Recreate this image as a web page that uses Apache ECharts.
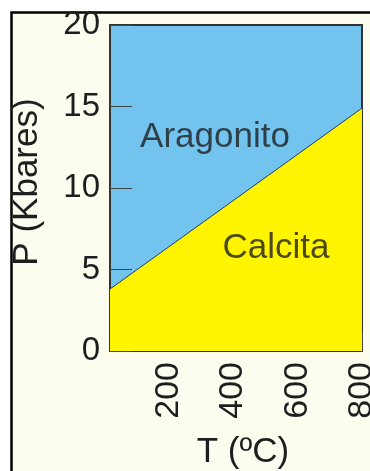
<!DOCTYPE html>
<html>
<head>
<meta charset="utf-8">
<script src="https://cdn.jsdelivr.net/npm/echarts@6/dist/echarts.min.js"></script>
<style>
  html, body { margin: 0; padding: 0; background: #ffffff; }
  #chart { width: 370px; height: 471px; }
</style>
</head>
<body>
<div id="chart"></div>
<script>
// Calcite–aragonite phase boundary (P in kbar vs T in °C)
var boundaryT = [20, 800];
var boundaryP = [3.8, 14.9];

var xTicks = [200, 400, 600, 800];
var yTicks = [0, 5, 10, 15, 20];

// Phase field labels, placed in data coordinates
var phaseNames = ['Aragonito', 'Calcita'];
var phaseT = [345, 534];
var phaseP = [13.1, 6.3];

var xTitle = 'T (ºC)';
var yTitle = 'P (Kbares)';

var FONT = '"Liberation Sans", Arial, Helvetica, sans-serif';
var INK = '#1e1e1e';

var boundary = boundaryT.map(function (t, i) { return [t, boundaryP[i]]; });
var phaseLabels = phaseNames.map(function (n, i) {
  return { name: n, value: [phaseT[i], phaseP[i]] };
});

var chart = echarts.init(document.getElementById('chart'), null, { renderer: 'canvas' });
chart.setOption({
  animation: false,
  backgroundColor: '#ffffff',
  graphic: [
    {
      type: 'rect',
      z: -10,
      silent: true,
      shape: { x: 11.5, y: 12.5, width: 420, height: 520 },
      style: { fill: '#fcfcef', stroke: '#000000', lineWidth: 2.5 }
    },
    {
      // axis titles
      type: 'text',
      x: 27, y: 182,
      rotation: Math.PI / 2,
      silent: true,
      style: {
        text: yTitle, fill: INK,
        font: '35px ' + FONT,
        align: 'center', verticalAlign: 'middle'
      }
    },
    {
      type: 'text',
      x: 243, y: 452,
      silent: true,
      style: {
        text: xTitle, fill: INK,
        font: '35px ' + FONT,
        align: 'center', verticalAlign: 'middle'
      }
    }
  ],
  grid: {
    left: 110, right: 8, top: 25, bottom: 120,
    containLabel: false,
    outerBoundsMode: 'none',
    show: true,
    backgroundColor: '#72c4ef',
    borderColor: '#333333',
    borderWidth: 2
  },
  xAxis: {
    type: 'value',
    min: 20, max: 800,
    axisLine: { show: false },
    splitLine: { show: false },
    axisTick: {
      show: true, inside: true, length: 19,
      customValues: xTicks,
      lineStyle: { color: '#444444', width: 1 }
    },
    axisLabel: {
      customValues: xTicks,
      rotate: 90,
      margin: 11,
      fontFamily: FONT, fontSize: 34, color: INK
    }
  },
  yAxis: {
    type: 'value',
    min: 0, max: 20, interval: 5,
    axisLine: { show: false },
    splitLine: { show: false },
    axisTick: {
      show: true, inside: true, length: 22,
      lineStyle: { color: '#444444', width: 1 }
    },
    axisLabel: {
      margin: 10,
      fontFamily: FONT, fontSize: 33, color: INK,
      customValues: yTicks
    }
  },
  series: [
    {
      type: 'line',
      data: boundary,
      symbol: 'none',
      lineStyle: { color: '#1f3b6e', width: 1 },
      areaStyle: { color: '#fff500', opacity: 1, origin: 'start' },
      z: 1
    },
    {
      type: 'scatter',
      data: phaseLabels,
      symbolSize: 0,
      silent: true,
      label: {
        show: true,
        position: 'inside',
        formatter: '{b}',
        fontFamily: FONT,
        fontSize: 35,
        color: INK
      },
      z: 3
    }
  ]
});
</script>
</body>
</html>
